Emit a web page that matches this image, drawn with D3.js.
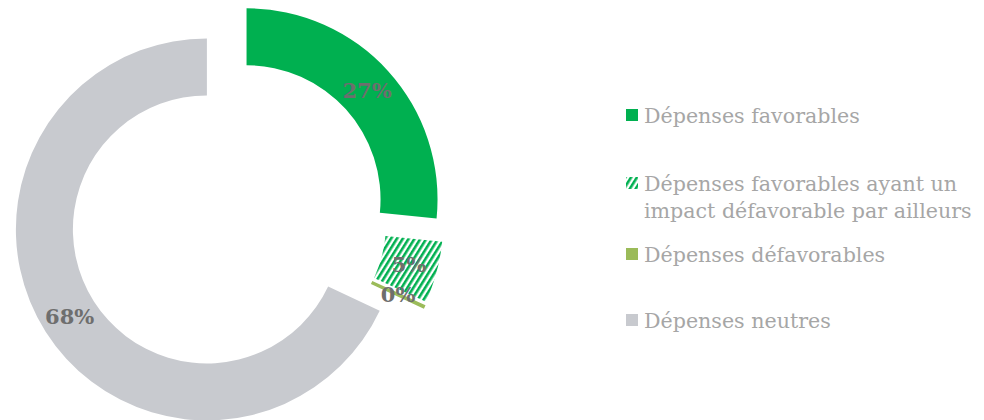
<!DOCTYPE html>
<html>
<head>
<meta charset="utf-8">
<script src="https://cdn.jsdelivr.net/npm/d3@7"></script>
<style>
  body { margin: 0; background: #fff; }
  svg { display: block; }
</style>
</head>
<body>
<div id="chart"></div>
<script>
var width = 984, height = 420;

// categories, values (share of spending, %) and the printed labels
var categories = ["Dépenses favorables",
                  "Dépenses favorables ayant un impact défavorable par ailleurs",
                  "Dépenses défavorables",
                  "Dépenses neutres"];
var values = [26.6, 5.2, 0.2, 68.0];
var labels = ["27%", "5%", "0%", "68%"];

// legend text, wrapped as in the original
var legendLines = [
    ["Dépenses favorables"],
    ["Dépenses favorables ayant un", "impact défavorable par ailleurs"],
    ["Dépenses défavorables"],
    ["Dépenses neutres"]
];

var colors = ["#00b050", "url(#hatch)", "#9bbb59", "#c8cacf"];

var cx = 228, cy = 216,
    outerR = 191, innerR = 134,
    explode = 25;

var svg = d3.select("#chart").append("svg")
    .attr("width", width)
    .attr("height", height);

// hatch pattern for the "favorable mais impact défavorable" slice
var defs = svg.append("defs");
var pat = defs.append("pattern")
    .attr("id", "hatch")
    .attr("patternUnits", "userSpaceOnUse")
    .attr("width", 5)
    .attr("height", 5)
    .attr("patternTransform", "rotate(32)");
pat.append("rect").attr("width", 5).attr("height", 5).attr("fill", "#fff");
pat.append("rect").attr("width", 2.6).attr("height", 5).attr("fill", "#00b050");

var pie = d3.pie().sort(null).value(function(d) { return d; });
var arcs = pie(values);

var arc = d3.arc().innerRadius(innerR).outerRadius(outerR);
var labelArc = d3.arc().innerRadius((innerR + outerR) / 2).outerRadius((innerR + outerR) / 2);

var g = svg.append("g")
    .attr("transform", "translate(" + cx + "," + cy + ")");

function offset(d) {
    var a = (d.startAngle + d.endAngle) / 2;
    return [Math.sin(a) * explode, -Math.cos(a) * explode];
}

var slices = g.selectAll(".slice")
    .data(arcs)
    .enter()
    .append("g")
    .attr("class", "slice")
    .attr("transform", function(d) {
        var o = offset(d);
        return "translate(" + o[0] + "," + o[1] + ")";
    });

slices.append("path")
    .attr("d", arc)
    .attr("fill", function(d, i) { return colors[i]; })
    .attr("stroke", function(d, i) { return i == 2 ? "#9bbb59" : "none"; })
    .attr("stroke-width", 1.5);

slices.append("text")
    .attr("transform", function(d) { return "translate(" + labelArc.centroid(d) + ")"; })
    .attr("text-anchor", "middle")
    .attr("dy", "0.35em")
    .style("font-family", "Georgia, 'DejaVu Serif', serif")
    .style("font-weight", "bold")
    .style("font-size", "21px")
    .style("fill", "#6e6e6e")
    .text(function(d, i) { return labels[i]; });

// legend
var legendX = 626;
var legendY = [115, 183, 254, 320];

var legend = svg.append("g")
    .selectAll(".item")
    .data(categories)
    .enter()
    .append("g")
    .attr("class", "item")
    .attr("transform", function(d, i) { return "translate(" + legendX + "," + legendY[i] + ")"; });

legend.append("rect")
    .attr("x", 0)
    .attr("y", -6)
    .attr("width", 12)
    .attr("height", 12)
    .attr("fill", function(d, i) { return colors[i]; });

legend.each(function(d, i) {
    var t = d3.select(this).append("text")
        .style("font-family", "Georgia, 'DejaVu Serif', serif")
        .style("font-size", "20.6px")
        .style("fill", "#a6a6a6");
    legendLines[i].forEach(function(line, j) {
        t.append("tspan")
            .attr("x", 18)
            .attr("y", 8 + j * 27)
            .text(line);
    });
});
</script>
</body>
</html>
